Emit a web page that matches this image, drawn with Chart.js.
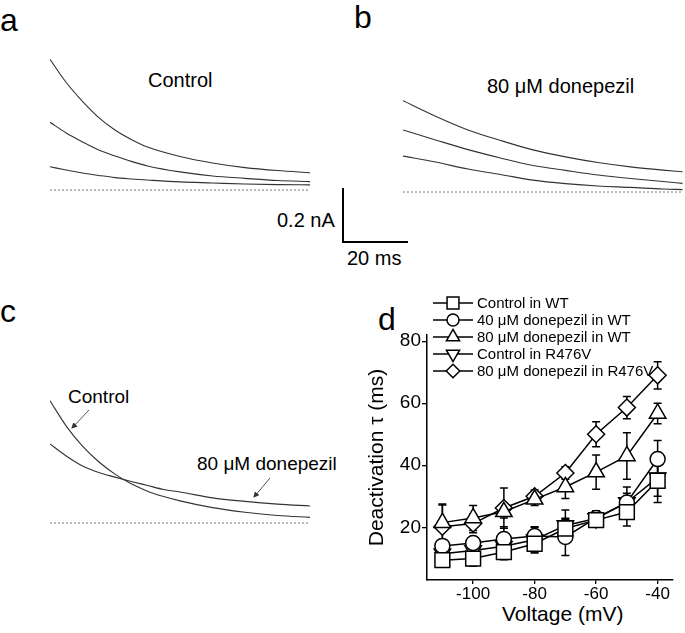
<!DOCTYPE html>
<html>
<head>
<meta charset="utf-8">
<script src="https://cdn.jsdelivr.net/npm/chart.js@4.4.1/dist/chart.umd.min.js"></script>
<style>
  html, body { margin: 0; padding: 0; background: #fff; }
  #fig { position: relative; width: 685px; height: 633px; overflow: hidden;
         font-family: 'Liberation Sans', Arial, sans-serif; color: #000; }
  #fig canvas { position: absolute; }
  .lbl { position: absolute; white-space: nowrap; line-height: 1; }
  .bar { position: absolute; background: #000; }
</style>
</head>
<body>
<div id="fig">
  <div class="lbl" style="left:0px;top:4px;font-size:32px">a</div>
  <div class="lbl" style="left:354px;top:1px;font-size:32px">b</div>
  <div class="lbl" style="left:0px;top:295px;font-size:32px">c</div>
  <div class="lbl" style="left:378px;top:303px;font-size:32px">d</div>

  <div class="lbl" style="left:148px;top:70px;font-size:20px">Control</div>
  <div class="lbl" style="left:487px;top:76px;font-size:20px">80 μM donepezil</div>

  <!-- scale bar -->
  <div class="bar" style="left:342px;top:188px;width:2px;height:55px"></div>
  <div class="bar" style="left:342px;top:241px;width:66px;height:2px"></div>
  <div class="lbl" style="left:277px;top:210px;font-size:20px">0.2 nA</div>
  <div class="lbl" style="left:347px;top:248px;font-size:20px">20 ms</div>

  <div class="lbl" style="left:68px;top:387px;font-size:19px">Control</div>
  <div class="lbl" style="left:197px;top:454px;font-size:19px">80 μM donepezil</div>
  <svg style="position:absolute;left:0;top:0" width="685" height="633">
    <defs>
      <marker id="ah" markerWidth="6" markerHeight="6" refX="5" refY="3" orient="auto">
        <path d="M0,0 L6,3 L0,6 z" fill="#333"/>
      </marker>
    </defs>
    <line x1="89" y1="410" x2="72" y2="428" stroke="#555" stroke-width="1" marker-end="url(#ah)"/>
    <line x1="270" y1="478" x2="254" y2="497" stroke="#555" stroke-width="1" marker-end="url(#ah)"/>
  </svg>

  <div class="lbl" style="left:502px;top:603px;font-size:21px">Voltage (mV)</div>

  <canvas id="panelA" width="260" height="150" style="left:50px;top:50px"></canvas>
  <canvas id="panelB" width="281" height="150" style="left:403px;top:50px"></canvas>
  <canvas id="panelC" width="260" height="140" style="left:50px;top:390px"></canvas>
  <canvas id="panelD" width="325" height="343" style="left:360px;top:290px"></canvas>
</div>

<script>
const timesA = [0, 5, 10, 15, 20, 25, 30, 40, 50, 60, 70, 80];
const traceA1 = [0.484, 0.398, 0.328, 0.268, 0.222, 0.187, 0.159, 0.124, 0.100, 0.083, 0.072, 0.064];
const traceA2 = [0.251, 0.211, 0.178, 0.148, 0.126, 0.106, 0.089, 0.067, 0.052, 0.043, 0.035, 0.031];
const traceA3 = [0.086, 0.074, 0.063, 0.054, 0.046, 0.041, 0.037, 0.030, 0.026, 0.022, 0.020, 0.019];

const timesB = [0, 10, 20, 30, 40, 50, 60, 70, 80, 86];
const traceB1 = [0.338, 0.281, 0.230, 0.191, 0.156, 0.130, 0.109, 0.093, 0.081, 0.075];
const traceB2 = [0.230, 0.193, 0.157, 0.126, 0.098, 0.080, 0.063, 0.050, 0.039, 0.032];
const traceB3 = [0.133, 0.111, 0.085, 0.065, 0.044, 0.031, 0.022, 0.017, 0.011, 0.009];

const timesC = [0, 5, 10, 15, 20, 25, 30, 35, 40, 50, 60, 70, 80];
const traceCControl = [0.453, 0.359, 0.285, 0.227, 0.181, 0.145, 0.118, 0.098, 0.082, 0.057, 0.040, 0.028, 0.021];
const traceCDonepezil = [0.293, 0.248, 0.211, 0.187, 0.170, 0.154, 0.139, 0.124, 0.115, 0.093, 0.080, 0.070, 0.063];

// deactivation tau (ms) vs voltage, panel d
const voltages = [-110, -100, -90, -80, -70, -60, -50, -40];
const seriesNames = ['Control in WT', '40 μM donepezil in WT', '80 μM donepezil in WT',
                     'Control in R476V', '80 μM donepezil in R476V'];
const tauCtlWT      = [9.4, 9.9, 12.0, 14.7, 19.6, 22.3, 24.9, 35.0];
const tauCtlWTErr   = [1.5, 2.5, 2.5, 3.0, 3.0, 2.0, 4.5, 7.0];
const tau40WT       = [14.0, 14.9, 16.2, 17.2, 16.9, 23.0, 28.0, 42.0];
const tau40WTErr    = [2.0, 2.0, 4.0, 3.0, 6.0, 2.0, 3.0, 6.0];
const tau80WT       = [21.5, 23.0, 25.0, 29.0, 33.0, 37.8, 43.0, 56.7];
const tau80WTErr    = [6.0, 4.0, 2.0, 2.0, 3.7, 5.5, 7.5, 3.3];
const tauCtlR476V   = [11.5, 12.5, 13.9, 16.0, 20.6, 22.8, 28.0, 36.0];
const tauCtlR476VErr = [2.0, 2.5, 3.5, 4.0, 5.0, 2.5, 5.0, 6.0];
const tau80R476V    = [20.2, 21.2, 26.2, 30.0, 37.5, 50.0, 58.6, 69.0];
const tau80R476VErr = [7.0, 3.0, 6.5, 2.0, 2.0, 4.0, 3.6, 4.4];

const xTicksD = [-100, -80, -60, -40];
const yTicksD = [20, 40, 60, 80];

const FONT = "'Liberation Sans', Arial, sans-serif";

function traceChart(id, times, traces, xMax, yMin, yMax) {
    const datasets = traces.map(tr => ({
        data: times.map((t, i) => ({ x: t, y: tr[i] })),
        borderColor: '#333',
        borderWidth: 1.1,
        pointRadius: 0,
        cubicInterpolationMode: 'monotone',
        clip: false
    }));
    // dotted zero-current line
    datasets.push({
        data: [{ x: 0, y: 0 }, { x: times[times.length - 1], y: 0 }],
        borderColor: '#777',
        borderWidth: 1,
        borderDash: [2, 2],
        pointRadius: 0,
        clip: false
    });
    return new Chart(document.getElementById(id), {
        type: 'line',
        data: { datasets },
        options: {
            responsive: false,
            animation: false,
            events: [],
            layout: { padding: 0 },
            plugins: { legend: { display: false }, tooltip: { enabled: false } },
            scales: {
                x: { type: 'linear', display: false, min: 0, max: xMax },
                y: { display: false, min: yMin, max: yMax }
            }
        }
    });
}

traceChart('panelA', timesA, [traceA1, traceA2, traceA3], 80, -0.037, 0.5185);
traceChart('panelB', timesB, [traceB1, traceB2, traceB3], 86.46, -0.0296, 0.526);
traceChart('panelC', timesC, [traceCControl, traceCDonepezil], 80, -0.0259, 0.4926);

// ---- panel d ----
const markers = [
    { pointStyle: 'rect', radius: 10.5, rotation: 0 },
    { pointStyle: 'circle', radius: 7.5, rotation: 0 },
    { pointStyle: 'triangle', radius: 9.5, rotation: 0 },
    { pointStyle: 'triangle', radius: 9.5, rotation: 180 },
    { pointStyle: 'rectRot', radius: 8.5, rotation: 0 }
];
const tauSeries = [tauCtlWT, tau40WT, tau80WT, tauCtlR476V, tau80R476V];
const tauErrors = [tauCtlWTErr, tau40WTErr, tau80WTErr, tauCtlR476VErr, tau80R476VErr];

const errorBars = {
    id: 'errorBars',
    beforeDatasetsDraw(chart) {
        const { ctx, scales: { y } } = chart;
        ctx.save();
        ctx.strokeStyle = '#000';
        ctx.lineWidth = 1.5;
        chart.data.datasets.forEach((ds, i) => {
            const meta = chart.getDatasetMeta(i);
            ds.errors.forEach((e, j) => {
                const pt = meta.data[j];
                const v = ds.data[j];
                const top = y.getPixelForValue(v + e);
                const bot = y.getPixelForValue(v - e);
                ctx.beginPath();
                ctx.moveTo(pt.x, top); ctx.lineTo(pt.x, bot);
                ctx.moveTo(pt.x - 4, top); ctx.lineTo(pt.x + 4, top);
                ctx.moveTo(pt.x - 4, bot); ctx.lineTo(pt.x + 4, bot);
                ctx.stroke();
            });
        });
        ctx.restore();
    }
};

const symbolLegend = {
    id: 'symbolLegend',
    afterDraw(chart) {
        const ctx = chart.ctx;
        const x0 = 73, y0 = 13, step = 17;
        ctx.save();
        chart.data.datasets.forEach((ds, i) => {
            const y = y0 + i * step;
            ctx.strokeStyle = '#000';
            ctx.lineWidth = 1.5;
            ctx.beginPath();
            ctx.moveTo(x0, y); ctx.lineTo(x0 + 40, y);
            ctx.stroke();
            ctx.fillStyle = '#fff';
            Chart.helpers.drawPoint(ctx, {
                pointStyle: markers[i].pointStyle,
                rotation: markers[i].rotation,
                radius: markers[i].radius * 0.8,
                borderWidth: 1.5
            }, x0 + 20, y);
            ctx.fillStyle = '#000';
            ctx.font = '15px ' + FONT;
            ctx.textBaseline = 'middle';
            ctx.textAlign = 'left';
            ctx.fillText(ds.label, x0 + 44, y + 1);
        });
        ctx.restore();
    }
};

const fixBox = (size) => (scale) => {
    if (scale.isHorizontal()) scale.height = size; else scale.width = size;
    scale.paddingLeft = scale.paddingRight = scale.paddingTop = scale.paddingBottom = 0;
};

new Chart(document.getElementById('panelD'), {
    type: 'line',
    data: {
        labels: voltages,
        datasets: tauSeries.map((vals, i) => ({
            label: seriesNames[i],
            data: vals,
            errors: tauErrors[i],
            borderColor: '#000',
            borderWidth: 1.5,
            pointStyle: markers[i].pointStyle,
            pointRadius: markers[i].radius,
            pointRotation: markers[i].rotation,
            pointBackgroundColor: '#fff',
            pointBorderColor: '#000',
            pointBorderWidth: 1.5,
            clip: false
        }))
    },
    options: {
        responsive: false,
        animation: false,
        events: [],
        layout: { padding: { top: 45, right: 4, left: 0, bottom: 0 } },
        plugins: { legend: { display: false }, tooltip: { enabled: false } },
        scales: {
            x: {
                type: 'linear', min: -115, max: -35,
                afterBuildTicks: s => { s.ticks = xTicksD.map(v => ({ value: v })); },
                afterFit: fixBox(53),
                grid: { drawOnChartArea: false, drawTicks: true, tickLength: 4, color: '#000', lineWidth: 1.3 },
                border: { display: true, color: '#000', width: 1.5 },
                ticks: { color: '#000', font: { family: FONT, size: 17 }, padding: 0, maxRotation: 0 }
            },
            y: {
                min: 3, max: 82,
                afterBuildTicks: s => { s.ticks = yTicksD.map(v => ({ value: v })); },
                afterFit: fixBox(67),
                grid: { drawOnChartArea: false, drawTicks: true, tickLength: 5, color: '#000', lineWidth: 1.3 },
                border: { display: true, color: '#000', width: 1.5 },
                ticks: { color: '#000', font: { family: FONT, size: 19 }, padding: 1 },
                title: { display: true, text: 'Deactivation τ (ms)', color: '#000',
                         font: { family: FONT, size: 21 }, padding: { top: 5, bottom: 0 } }
            }
        }
    },
    plugins: [errorBars, symbolLegend]
});
</script>
</body>
</html>
